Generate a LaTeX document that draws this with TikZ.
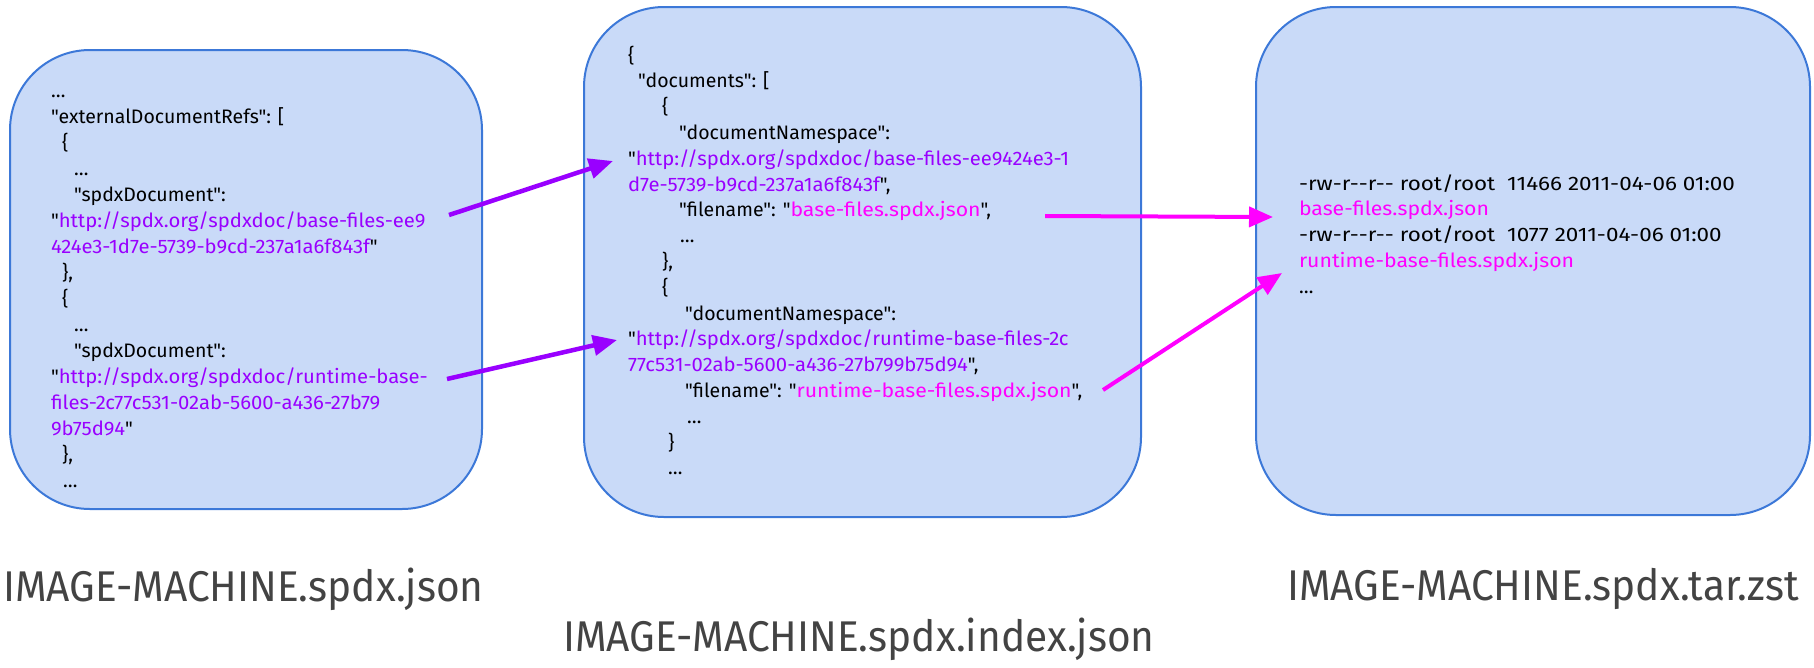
\documentclass[tikz,border=0pt]{standalone}
\usepackage{fontspec}
\usetikzlibrary{arrows.meta}
\newfontfamily\codefont{Fira Sans}
\newfontfamily\urlfont[FakeStretch=1.04]{Fira Sans}
\newfontfamily\namefont[FakeStretch=1.09]{Fira Sans}
\newfontfamily\digitfont[FakeStretch=1.15]{Fira Sans}
\newfontfamily\labelfont[FakeStretch=0.945]{Fira Sans}
\definecolor{boxfill}{HTML}{C9DAF8}
\definecolor{boxline}{HTML}{3C78D8}
\definecolor{urlpurple}{HTML}{9900FF}
\definecolor{fnmagenta}{HTML}{FF00FF}
\definecolor{labelgray}{HTML}{434343}
\newcommand\pu[1]{{\urlfont\textcolor{urlpurple}{#1}}}
\newcommand\mg[1]{{\namefont\textcolor{fnmagenta}{#1}}}
\tikzset{
  filebox/.style={draw=boxline, line width=2pt, fill=boxfill, rounded corners=80pt, inner sep=0pt},
  code/.style={anchor=base west, inner sep=0pt, outer sep=0pt, font=\codefont\fontsize{19.5}{23}\selectfont, text=black},
  tarcode/.style={code, font=\digitfont\fontsize{19.5}{23}\selectfont},
  biglabel/.style={anchor=base west, inner sep=0pt, font=\labelfont\fontsize{43}{50}\selectfont, text=labelgray},
  purplearrow/.style={draw=urlpurple, line width=4.5pt, -{Triangle[length=24pt,width=20pt]}},
  magentaarrow/.style={draw=fnmagenta, line width=4pt, -{Triangle[length=24pt,width=20pt]}},
}
\begin{document}
\begin{tikzpicture}[x=1pt,y=-1pt]
\useasboundingbox (0,0) rectangle (1814,667);
% boxes
\node[filebox, minimum width=472pt, minimum height=459pt] (box1) at (246,279.5) {};
\node[filebox, minimum width=557pt, minimum height=510pt] (box2) at (862.5,262) {};
\node[filebox, minimum width=554pt, minimum height=508pt] (box3) at (1533,261) {};
% box 1 text
\node[code] (a01) at (51,97) {…};
\node[code] (a02) at (51,123) {"externalDocumentRefs": [};
\node[code] (a03) at (62,149) {\{};
\node[code] (a04) at (74,175) {…};
\node[code] (a05) at (74,201) {"spdxDocument":};
\node[code] (a06) at (51,227) {"\pu{http://spdx.org/spdxdoc/base-files-ee9}};
\node[code] (a07) at (51,253) {\pu{424e3-1d7e-5739-b9cd-237a1a6f843f}"};
\node[code] (a08) at (62,279) {\},};
\node[code] (a09) at (62,305) {\{};
\node[code] (a10) at (74,331) {…};
\node[code] (a11) at (74,357) {"spdxDocument":};
\node[code] (a12) at (51,383) {"\pu{http://spdx.org/spdxdoc/runtime-base-}};
\node[code] (a13) at (51,409) {\pu{files-2c77c531-02ab-5600-a436-27b79}};
\node[code] (a14) at (51,435) {\pu{9b75d94}"};
\node[code] (a15) at (62,461) {\},};
\node[code] (a16) at (63,487) {…};
% box 2 text
\node[code] (b01) at (628,62) {\{};
\node[code] (b02) at (638,87.8) {"documents": [};
\node[code] (b03) at (662,113.6) {\{};
\node[code] (b04) at (679,139.4) {"documentNamespace":};
\node[code] (b05) at (628,165.2) {"\pu{http://spdx.org/spdxdoc/base-files-ee9424e3-1}};
\node[code] (b06) at (628,191) {\pu{d7e-5739-b9cd-237a1a6f843f}",};
\node[code] (b07) at (679,216.8) {"filename": "\mg{base-files.spdx.json}",};
\node[code] (b08) at (680,242.6) {…};
\node[code] (b09) at (662,268.4) {\},};
\node[code] (b10) at (662,294.2) {\{};
\node[code] (b11) at (685,320) {"documentNamespace":};
\node[code] (b12) at (628,345.8) {"\pu{http://spdx.org/spdxdoc/runtime-base-files-2c}};
\node[code] (b13) at (628,371.6) {\pu{77c531-02ab-5600-a436-27b799b75d94}",};
\node[code] (b14) at (685,397.4) {"filename": "\mg{runtime-base-files.spdx.json}",};
\node[code] (b15) at (687,423.2) {…};
\node[code] (b16) at (668,449) {\}};
\node[code] (b17) at (668,474.8) {…};
% box 3 text
\node[tarcode] (c01) at (1299,190) {-rw-r--r-- root/root\ \ 11466 2011-04-06 01:00};
\node[code] (c02) at (1299,215.8) {\mg{base-files.spdx.json}};
\node[tarcode] (c03) at (1299,241.6) {-rw-r--r-- root/root\ \ 1077 2011-04-06 01:00};
\node[code] (c04) at (1299,267.4) {\mg{runtime-base-files.spdx.json}};
\node[code] (c05) at (1299,293.2) {…};
% labels
\node[biglabel] (lab1) at (3,601) {IMAGE-MACHINE.spdx.json};
\node[biglabel] (lab2) at (563,651) {IMAGE-MACHINE.spdx.index.json};
\node[biglabel] (lab3) at (1287,600) {IMAGE-MACHINE.spdx.tar.zst};
% arrow end points
\coordinate (p1s) at (449,215);
\coordinate (p1e) at (613,161);
\coordinate (p2s) at (447,379);
\coordinate (p2e) at (617,340);
\coordinate (m1s) at (1045,216);
\coordinate (m1e) at (1273,217);
\coordinate (m2s) at (1103,390);
\coordinate (m2e) at (1282,273);
\draw[purplearrow] (p1s) -- (p1e);
\draw[purplearrow] (p2s) -- (p2e);
\draw[magentaarrow] (m1s) -- (m1e);
\draw[magentaarrow] (m2s) -- (m2e);
\end{tikzpicture}
\end{document}
